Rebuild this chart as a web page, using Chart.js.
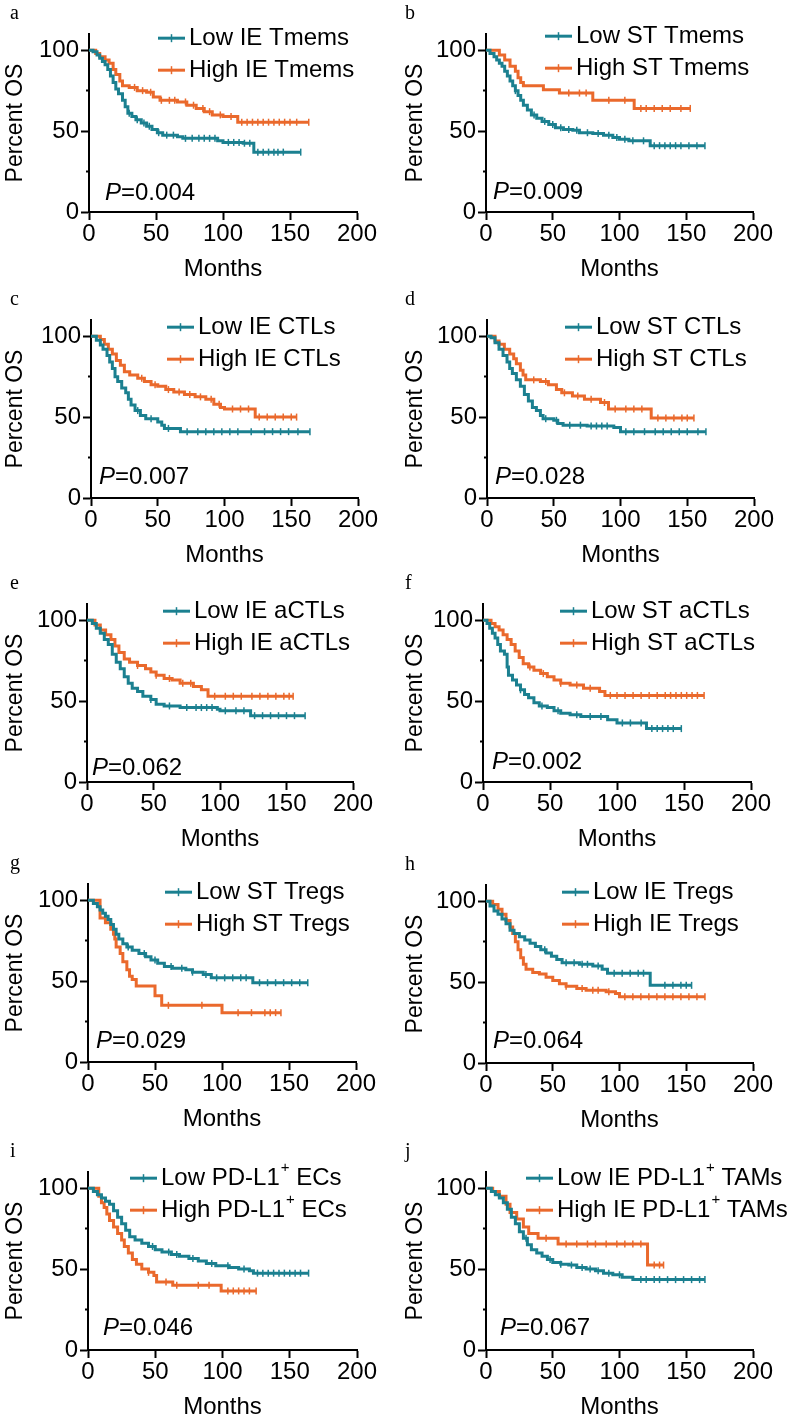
<!DOCTYPE html>
<html>
<head>
<meta charset="utf-8">
<script src="https://cdn.jsdelivr.net/npm/chart.js@4.4.1/dist/chart.umd.min.js"></script>
<style>
  body { margin: 0; background: #fff; }
  #fig { position: relative; width: 800px; height: 1423px; overflow: hidden; background: #fff; }
  #fig canvas { position: absolute; }
</style>
</head>
<body>
<div id="fig"></div>
<script>
// ---- data: [month, percent OS] steps of each Kaplan-Meier curve ----
const aLow  = [[0,100],[3,99],[6,97],[8,95],[10,93],[12,91],[14,88],[16,84],[18,80],[20,76],[22,73],[25,69],[27,65],[29,61],[32,59],[35,57],[39,55],[43,53],[47,51],[51,49],[55,47.5],[66,46.5],[70,45.5],[96,44],[100,43],[115,42.5],[123,37],[158,37]];
const aHigh = [[0,100],[5,98],[8,96],[12,94],[15,92],[18,88],[20,85],[23,81],[25,78],[30,77],[36,75],[43,74],[48,71],[53,69],[66,68],[73,66],[80,64],[86,62],[92,60],[100,59],[111,55.5],[164,55.5]];
const bLow  = [[0,100],[3,98],[6,96],[8,94],[10,92],[12,90],[14,87],[16,84],[18,81],[20,78],[22,75],[24,72],[26,69],[28,66],[31,63],[34,60],[38,58],[42,56],[47,54],[52,52],[58,51],[65,50.5],[70,49],[80,48.5],[88,47.5],[95,46],[100,45],[107,44],[123,41],[164,41]];
const bHigh = [[0,100],[10,97],[14,94],[18,90],[22,87],[24,83],[26,80],[28,78],[43,75.5],[55,73.5],[80,69],[111,64],[153,64]];
const cLow  = [[0,100],[4,97.5],[7,94.5],[9,92],[12,88],[14,84],[16,80],[18,75],[20,72],[23,68],[26,65],[28,61],[30,57.5],[33,54],[37,51],[41,49],[50,47],[53,45],[55,43],[67,41],[164,41]];
const cHigh = [[0,100],[7,98],[10,95],[13,92],[16,89],[19,85],[22,82],[25,78],[29,76],[35,74],[40,72],[45,70],[50,69],[56,67],[62,65.5],[70,64],[78,62.5],[86,61],[92,58],[97,56],[100,55],[123,50],[154,50]];
const dLow  = [[0,100],[3,99],[6,96],[9,92],[12,88],[15,84],[17,80],[19,77],[22,73],[25,69],[28,64],[31,60],[34,56],[37,54],[40,51],[42,49],[50,48],[53,46],[57,45],[75,44.5],[95,43.5],[100,41],[164,41]];
const dHigh = [[0,100],[6,97],[9,95],[13,92],[17,89],[20,86],[22,83],[25,79],[27,76],[29,73],[40,72],[46,70],[52,67],[56,65],[64,63],[73,61],[85,59],[91,55],[123,49.5],[155,49.5]];
const eLow  = [[0,100],[4,98],[7,95],[10,92],[13,88],[16,85],[19,79],[22,74],[25,70],[28,65],[31,61],[34,58],[38,56],[42,53],[48,51],[52,48],[58,47],[70,46],[98,45],[100,44],[123,41],[164,41]];
const eHigh = [[0,100],[6,97],[10,94],[14,91],[18,88],[21,84],[24,80],[28,76],[32,74],[38,72],[44,70],[48,68],[52,66],[58,64],[64,63],[70,61],[80,59],[86,57],[91,53],[155,53]];
const fLow  = [[0,100],[3,98],[5,95],[7,92],[9,89],[11,85],[13,81],[16,79],[18,71],[19,66],[22,63],[25,60],[28,57],[31,54],[34,52],[38,49],[42,47],[48,46],[53,44],[58,42.5],[65,41.5],[73,40.5],[93,38.5],[100,36.5],[122,33],[148,33]];
const fHigh = [[0,100],[6,98],[9,96],[12,94],[15,91],[18,88],[21,85],[24,81],[27,77],[30,73],[34,71],[38,69],[43,67],[48,65],[53,63],[58,61],[65,60],[75,58],[87,56],[91,53.5],[165,53.5]];
const gLow  = [[0,100],[4,98],[7,96],[9,94],[11,92],[13,90],[15,88],[17,85],[19,82],[21,79],[23,76],[26,73],[29,71],[33,69],[38,67],[43,65],[47,63],[52,61],[57,59],[63,58],[73,57],[78,55.5],[86,54],[92,52],[123,49],[164,49]];
const gHigh = [[0,100],[9,89],[13,86],[17,82],[19,79],[20,76],[21,71],[24,67],[26,62],[29,57],[31,53],[33,51],[36,47],[50,41],[55,35],[100,30.5],[144,30.5]];
const hLow  = [[0,100],[3,97],[6,94],[9,92],[12,89],[15,86],[18,82],[21,80],[25,78],[29,76],[33,74],[37,72],[41,70],[45,68],[49,66],[53,64],[57,62],[70,61],[80,60],[87,58],[91,55.5],[123,48],[154,48]];
const hHigh = [[0,100],[5,98],[9,95],[12,92],[15,88],[18,84],[20,80],[22,75],[24,70],[26,65],[28,61],[30,58],[35,56],[40,55],[45,53],[50,51],[55,49],[60,47.5],[68,46],[75,45],[90,44],[97,43],[100,41],[164,41]];
const iLow  = [[0,100],[4,98],[7,96],[10,94],[13,92],[16,90],[19,86],[22,82],[25,78],[28,74],[31,70],[35,68],[40,66],[45,64],[50,62],[55,60.5],[62,59],[68,58],[75,56.5],[82,55],[88,53.5],[95,52],[105,51],[112,50],[120,49],[123,47.5],[164,47.5]];
const iHigh = [[0,100],[8,95],[10,91],[12,88],[14,84],[16,80],[19,76],[22,72],[25,68],[27,64],[30,60],[33,56],[36,53],[40,50],[45,48],[49,46],[51,42],[63,40],[99,36.5],[125,36.5]];
const jLow  = [[0,100],[4,98],[7,96],[10,94],[13,91],[16,87],[19,82],[22,78],[25,73],[28,69],[31,65],[34,62],[38,60],[42,58],[46,56],[50,54],[56,53],[62,52.5],[68,51],[75,50],[82,49],[88,47.5],[95,46.5],[102,45],[110,43.5],[164,43.5]];
const jHigh = [[0,100],[5,98],[10,95],[15,90],[18,85],[23,81],[28,76],[32,72],[39,69],[54,65.5],[121,52.5],[133,52.5]];

// censored times (months)
const aLowCens  = [30,36,41,45,52,58,63,72,77,82,86,90,94,104,108,112,116,120,126,130,134,138,141,145,158];
const aHighCens = [34,40,46,54,60,64,72,78,85,90,98,106,114,118,122,126,130,134,138,142,146,150,155,164];
const bLowCens  = [22,36,44,50,56,62,68,76,84,92,98,104,110,118,126,130,134,138,142,146,152,158,164];
const bHighCens = [62,70,75,92,104,116,120,126,132,138,146,153];
const cLowCens  = [35,45,58,72,80,86,92,98,104,110,120,130,136,142,148,155,164];
const cHighCens = [38,48,58,66,74,82,90,96,106,112,118,126,132,138,144,150,154];
const dLowCens  = [44,52,62,70,78,82,86,90,104,110,118,126,132,138,144,150,158,164];
const dHighCens = [35,44,58,68,78,88,96,104,110,116,128,134,140,146,150,155];
const eLowCens  = [48,62,75,82,86,90,94,104,112,118,126,132,138,144,150,156,164];
const eHighCens = [38,52,62,72,78,96,104,110,116,124,130,136,142,148,152,155];
const fLowCens  = [28,44,56,70,80,88,104,110,118,126,130,134,138,142,148];
const fHighCens = [35,45,58,70,80,95,100,106,112,118,124,130,136,140,144,148,152,156,160,165];
const gLowCens  = [30,42,50,62,70,78,88,96,102,108,114,118,128,134,140,146,152,158,164];
const gHighCens = [60,85,112,122,132,136,140,144];
const hLowCens  = [44,60,66,72,76,84,96,102,108,114,118,134,140,146,150,154];
const hHighCens = [60,72,80,84,92,104,110,116,122,128,134,140,146,152,158,164];
const iLowCens  = [48,60,66,78,92,104,116,126,130,134,138,142,146,150,154,158,164];
const iHighCens = [45,58,66,82,90,104,108,112,116,120,125];
const jLowCens  = [30,48,56,64,72,78,84,92,100,116,120,126,130,136,142,148,154,160,164];
const jHighCens = [45,60,68,76,82,90,98,104,110,116,126,130,133];

const letters    = ['a','b','c','d','e','f','g','h','i','j'];
const lowLabels  = ['Low IE Tmems','Low ST Tmems','Low IE CTLs','Low ST CTLs','Low IE aCTLs','Low ST aCTLs','Low ST Tregs','Low IE Tregs','Low PD-L1⁺ ECs','Low IE PD-L1⁺ TAMs'];
const highLabels = ['High IE Tmems','High ST Tmems','High IE CTLs','High ST CTLs','High IE aCTLs','High ST aCTLs','High ST Tregs','High IE Tregs','High PD-L1⁺ ECs','High IE PD-L1⁺ TAMs'];
const pValues    = ['0.004','0.009','0.007','0.028','0.062','0.002','0.029','0.064','0.046','0.067'];
const lows   = [aLow,bLow,cLow,dLow,eLow,fLow,gLow,hLow,iLow,jLow];
const highs  = [aHigh,bHigh,cHigh,dHigh,eHigh,fHigh,gHigh,hHigh,iHigh,jHigh];
const lowCens  = [aLowCens,bLowCens,cLowCens,dLowCens,eLowCens,fLowCens,gLowCens,hLowCens,iLowCens,jLowCens];
const highCens = [aHighCens,bHighCens,cHighCens,dHighCens,eHighCens,fHighCens,gHighCens,hHighCens,iHighCens,jHighCens];
const xTicks = [0,50,100,150,200];
const yTicks = [0,25,50,75,100];

// ---- layout (pixels) ----
const panels = [
  {col:0, y0:212,  x0:89, x2:357, leg:[69,-12], p:[16,-12]},
  {col:1, y0:212,  x0:86, x2:353, leg:[59,-14], p:[7,-13]},
  {col:0, y0:498,  x0:91, x2:358, leg:[76,-9],  p:[8,-14]},
  {col:1, y0:498,  x0:87, x2:354, leg:[78,-9],  p:[8,-14]},
  {col:0, y0:782,  x0:87, x2:353, leg:[76,-9],  p:[5,-7]},
  {col:1, y0:782,  x0:83, x2:351, leg:[77,-9],  p:[9,-13]},
  {col:0, y0:1062, x0:88, x2:356, leg:[77,-8],  p:[8,-14]},
  {col:1, y0:1063, x0:86, x2:353, leg:[76,-9],  p:[7,-15]},
  {col:0, y0:1350, x0:88, x2:357, leg:[42,-10], p:[15,-15]},
  {col:1, y0:1350, x0:86, x2:353, leg:[40,-10], p:[14,-15]}
];

const TEAL = '#1b8090';
const ORANGE = '#ea692c';
const FAM = '"Liberation Sans", Arial, Helvetica, sans-serif';
const TXT = 24;
Chart.defaults.font.family = FAM;
Chart.defaults.color = '#000';

function stepAt(steps, t) {
  let s = steps[0][1];
  for (const [x, y] of steps) if (x <= t) s = y;
  return s;
}

function drawLabel(ctx, text, x, y) {
  const parts = text.split('⁺');
  ctx.font = TXT + 'px ' + FAM;
  ctx.fillText(parts[0], x, y);
  if (parts.length > 1) {
    let w = ctx.measureText(parts[0]).width;
    ctx.font = '15px ' + FAM;
    ctx.fillText('+', x + w + 1, y - 10);
    w += ctx.measureText('+').width + 1;
    ctx.font = TXT + 'px ' + FAM;
    ctx.fillText(parts[1], x + w, y);
  }
}

const deco = {
  id: 'deco',
  afterDraw(chart, args, o) {
    const {ctx, scales} = chart;
    const x0 = scales.x.getPixelForValue(0);
    const y100 = scales.y.getPixelForValue(100);
    const yb = scales.y.getPixelForValue(0);
    ctx.save();
    ctx.fillStyle = '#000';
    // panel letter
    ctx.textBaseline = 'alphabetic';
    ctx.textAlign = 'left';
    ctx.font = '20px "Liberation Serif", "Times New Roman", serif';
    ctx.fillText(o.letter, o.col ? 5 : 10, y100 - 31);
    // legend
    ctx.textBaseline = 'middle';
    chart.data.datasets.slice(0, 2).forEach((ds, k) => {
      const lx = x0 + o.leg[0], ly = y100 + o.leg[1] + k * 32;
      ctx.strokeStyle = ds.borderColor;
      ctx.lineWidth = 3;
      ctx.beginPath(); ctx.moveTo(lx, ly); ctx.lineTo(lx + 27, ly); ctx.stroke();
      ctx.lineWidth = 1.5;
      ctx.beginPath(); ctx.moveTo(lx + 13.5, ly - 4); ctx.lineTo(lx + 13.5, ly + 4); ctx.stroke();
      ctx.fillStyle = '#000';
      drawLabel(ctx, ds.label, lx + 31, ly);
    });
    // P value
    ctx.textBaseline = 'alphabetic';
    const px = x0 + o.p[0], py = yb + o.p[1];
    ctx.font = 'italic ' + TXT + 'px ' + FAM;
    ctx.fillText('P', px, py);
    const w = ctx.measureText('P').width;
    ctx.font = TXT + 'px ' + FAM;
    ctx.fillText('=' + o.pval, px + w, py);
    ctx.restore();
  }
};

const fig = document.getElementById('fig');
panels.forEach((L, i) => {
  const cv = document.createElement('canvas');
  cv.width = 400; cv.height = 285;
  cv.style.left = (L.col * 400) + 'px';
  cv.style.top = (L.y0 - 212) + 'px';
  fig.appendChild(cv);

  // KM curve: hold the previous value until the event time, then drop
  const curve = (steps, label, color) => ({
    label, data: steps.map(([x, y]) => ({x, y})),
    stepped: 'before', borderColor: color, borderWidth: 3,
    pointRadius: 0, fill: false, borderJoinStyle: 'miter'
  });
  const cens = (times, steps, color) => ({
    label: '', data: times.map(t => ({x: t, y: stepAt(steps, t)})),
    showLine: false, pointStyle: 'line', pointRotation: 90, pointRadius: 3.5,
    pointBorderColor: color, pointBorderWidth: 1.5, borderColor: color
  });

  new Chart(cv.getContext('2d'), {
    type: 'line',
    data: {
      datasets: [
        curve(lows[i], lowLabels[i], TEAL),
        curve(highs[i], highLabels[i], ORANGE),
        cens(lowCens[i], lows[i], TEAL),
        cens(highCens[i], highs[i], ORANGE)
      ]
    },
    options: {
      responsive: false,
      animation: false,
      devicePixelRatio: 1,
      layout: { padding: { left: 0, right: 400 - L.x2, top: 34, bottom: 0 } },
      scales: {
        x: {
          type: 'linear', min: 0, max: 200,
          afterBuildTicks: s => { s.ticks = xTicks.map(v => ({value: v})); },
          afterFit: s => { s.height = 73; },
          ticks: { font: { size: TXT }, color: '#000', padding: 0, maxRotation: 0 },
          grid: { drawOnChartArea: false, tickLength: 8, tickColor: '#000', tickWidth: 2 },
          border: { color: '#000', width: 2 },
          title: { display: true, text: 'Months', font: { size: TXT }, color: '#000', padding: { top: 0, bottom: 1 } }
        },
        y: {
          type: 'linear', min: 0, max: 110,
          afterBuildTicks: s => { s.ticks = yTicks.map(v => ({value: v})); },
          afterFit: s => { s.width = L.x0; },
          ticks: { font: { size: TXT }, color: '#000', padding: 2, callback: v => (v % 50 === 0 ? v : '') },
          grid: {
            drawOnChartArea: false, tickLength: 8, tickColor: '#000', tickWidth: 2,
            tickBorderDash: c => (c.tick && c.tick.value % 50 !== 0 ? [0, 5, 20] : [])
          },
          border: { color: '#000', width: 2 },
          title: { display: true, text: 'Percent OS', font: { size: 23 }, color: '#000', padding: { top: 2, bottom: 0 } }
        }
      },
      plugins: {
        legend: { display: false },
        tooltip: { enabled: false },
        deco: { letter: letters[i], col: L.col, leg: L.leg, p: L.p, pval: pValues[i] }
      }
    },
    plugins: [deco]
  });
});
</script>
</body>
</html>
